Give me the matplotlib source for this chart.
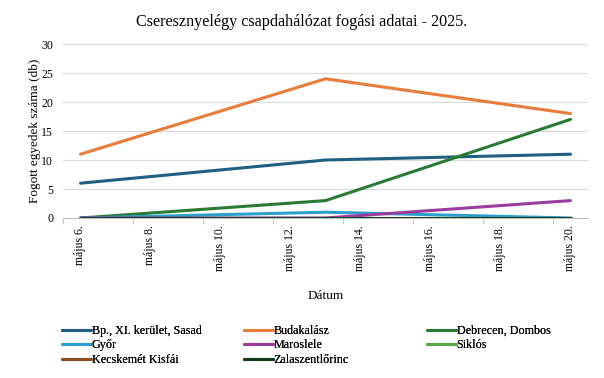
import matplotlib
matplotlib.use("Agg")
import matplotlib.pyplot as plt
import pandas as pd
import numpy as np

plt.rcParams['font.family'] = ['Liberation Serif', 'DejaVu Serif']

# mérési napok
dates = ["2025-05-06", "2025-05-13", "2025-05-20"]

sasad = [6, 10, 11]
budakalasz = [11, 24, 18]
debrecen = [0, 3, 17]
gyor = [0, 1, 0]
maroslele = [0, 0, 3]
siklos = [0, 0, 0]
kecskemet = [0, 0, 0]
zala = [0, 0, 0]

series_names = ["Bp., XI. kerület, Sasad", "Budakalász", "Debrecen, Dombos",
                "Győr", "Maroslele", "Siklós", "Kecskemét Kisfái", "Zalaszentlőrinc"]
series_values = [sasad, budakalasz, debrecen, gyor, maroslele, siklos, kecskemet, zala]
colors = ["#1f5f80", "#e97b3b", "#2a7a33", "#2b9fcd",
          "#9a3c9e", "#57a845", "#8d4a1f", "#0e3b1c"]

x = pd.to_datetime(dates)

fig = plt.figure(figsize=(6.04, 3.78), dpi=100)
ax = fig.add_axes([63 / 604, 1 - 218 / 378, 525 / 604, 174 / 378])

handles = []
for name, vals, c in zip(series_names, series_values, colors):
    h, = ax.plot(x, vals, color=c, lw=2.2, solid_capstyle='round', label=name)
    handles.append(h)

day = pd.Timedelta(days=1)
ax.set_xlim(x[0] - day / 2, x[-1] + day / 2)
ax.set_ylim(0, 30)
ax.set_yticks(np.arange(0, 31, 5))
ax.grid(axis='y', color='#d9d9d9', lw=0.8)
ax.set_axisbelow(True)

label_days = pd.date_range(x[0], x[-1], freq='2D')
ax.set_xticks(label_days)
ax.set_xticklabels([f"május {d.day}." for d in label_days], rotation=90, fontsize=8.5)
ax.set_xticks(pd.date_range(x[0] - day / 2, x[-1] - day / 2, freq='2D'), minor=True)
ax.tick_params(axis='x', which='major', length=0, pad=5)
ax.tick_params(axis='x', which='minor', length=4, color='#bfbfbf')
ax.tick_params(axis='y', length=0, labelsize=8.5, pad=7)

for s in ['top', 'right', 'left']:
    ax.spines[s].set_visible(False)
ax.spines['bottom'].set_color('#bfbfbf')

ax.set_ylabel("Fogott egyedek száma (db)", fontsize=9.5, labelpad=0)
ax.set_xlabel("Dátum", fontsize=9.5, labelpad=14)
fig.suptitle("Cseresznyelégy csapdahálózat fogási adatai - 2025.", fontsize=11.6, y=0.963)

# a jelmagyarázat soronként olvasandó: három egyoszlopos legenda egyenlő közökkel
columns = [[0, 3, 6], [1, 4, 7], [2, 5]]
col_x = [62, 244, 427]
for idx, cx in zip(columns, col_x):
    leg = fig.legend([handles[i] for i in idx], [series_names[i] for i in idx],
                     loc='upper left', bbox_to_anchor=(cx / 604, 1 - 325 / 378),
                     frameon=False, fontsize=8.7, handlelength=2.4, handletextpad=0.05,
                     labelspacing=0.2, borderaxespad=0, borderpad=0)
    fig.add_artist(leg)

fig.savefig("out.png", dpi=100)
